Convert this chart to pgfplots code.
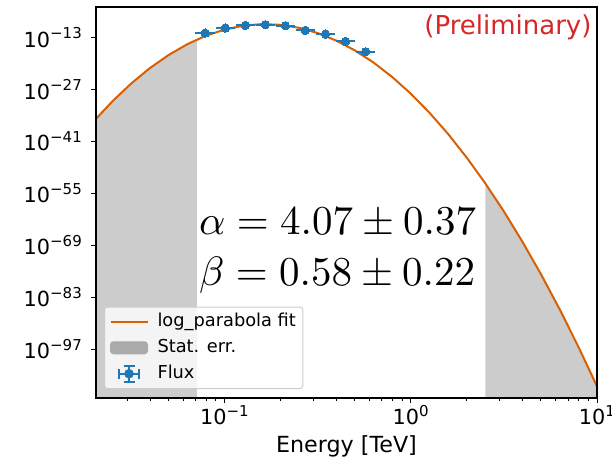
\documentclass[border=0pt]{standalone}
\usepackage[no-math]{fontspec}
\setmainfont{DejaVu Sans}
\usepackage{pgfplots}
\pgfplotsset{compat=1.18}
\definecolor{fitorange}{RGB}{217,95,2}
\definecolor{tabblue}{RGB}{31,119,180}
\definecolor{tabred}{RGB}{214,39,40}
\definecolor{errgray}{RGB}{204,204,204}
\definecolor{legpatch}{RGB}{170,170,170}
\newcommand{\tenp}[1]{10\raisebox{8.5pt}{\fontsize{15}{15}\selectfont #1}}
\begin{document}
\begin{tikzpicture}
\useasboundingbox (-96pt,-65pt) rectangle (516pt,398pt);
\begin{axis}[
  xmode=log, ymode=log,
  scale only axis, width=501pt, height=391pt,
  xmin=0.02042, xmax=10, ymin=7.2e-111, ymax=1.585e-5,
  axis on top,
  axis line style={line width=1.1pt, black},
  tick align=outside, xtick pos=bottom, ytick pos=left,
  major tick length=5pt, minor tick length=3pt,
  every tick/.style={line width=1pt, black},
  xtick={0.1,1,10},
  xticklabels={\tenp{−1},\tenp{0},\tenp{1}},
  minor xtick={0.03,0.04,0.05,0.06,0.07,0.08,0.09,0.2,0.3,0.4,0.5,0.6,0.7,0.8,0.9,2,3,4,5,6,7,8,9},
  ytickten={-97,-83,-69,-55,-41,-27,-13},
  yticklabels={\tenp{−97},\tenp{−83},\tenp{−69},\tenp{−55},\tenp{−41},\tenp{−27},\tenp{−13}},
  yminorticks=false,
  ticklabel style={font=\fontsize{20.8}{25}\selectfont, inner sep=0pt},
  xticklabel style={anchor=north, yshift=-2pt},
  yticklabel style={anchor=east, xshift=-9pt},
  xlabel={Energy [TeV]},
  xlabel style={font=\fontsize{22.2}{26}\selectfont, at={(axis description cs:0.5,0)}, anchor=base, yshift=-54.5pt, inner sep=0pt},
  legend style={at={(axis description cs:0.016,0.023)}, anchor=south west,
    draw=errgray, line width=1pt, rounded corners=3pt, fill=white, fill opacity=0.8, text opacity=1,
    font=\fontsize{17.8}{21}\selectfont, inner xsep=5pt, inner ysep=1.75pt, row sep=0pt,
    nodes={inner ysep=4.5pt, inner xsep=2pt, text height=13pt, text depth=4pt}},
  legend cell align=left,
]
% stat. err. band (left and right)
\addplot[forget plot, fill=errgray, draw=none] coordinates {
  (0.0199,1e-115) (0.0199,3.39e-36) (0.02512,7.76e-31) (0.03162,4.27e-26)
  (0.03981,5.75e-22) (0.05012,1.86e-18) (0.0631,1.48e-15) (0.0711,2.82e-14) (0.0711,1e-115)
} -- cycle;
\addplot[forget plot, fill=errgray, draw=none] coordinates {
  (2.512,1e-115) (2.512,5.13e-53) (3.162,1.38e-60) (3.981,8.71e-69) (5.012,1.38e-77)
  (6.31,5.13e-87) (7.943,4.68e-97) (10,1.02e-107) (10,1e-115)
} -- cycle;
% log-parabola fit
\addplot[forget plot, fitorange, line width=2pt] coordinates {
  (0.01995,3.39e-36) (0.02512,7.76e-31) (0.03162,4.27e-26) (0.03981,5.75e-22)
  (0.05012,1.86e-18) (0.0631,1.48e-15) (0.07943,2.82e-13) (0.1,1.29e-11)
  (0.1259,1.45e-10) (0.1585,3.89e-10) (0.1995,2.51e-10) (0.2512,3.98e-11)
  (0.3162,1.55e-12) (0.3981,1.41e-14) (0.5012,3.16e-17) (0.631,1.74e-20)
  (0.7943,2.29e-24) (1,7.24e-29) (1.259,5.62e-34) (1.585,1.05e-39)
  (1.995,4.68e-46) (2.512,5.13e-53) (3.162,1.38e-60) (3.981,8.71e-69)
  (5.012,1.38e-77) (6.31,5.13e-87) (7.943,4.68e-97) (10,1.02e-107)
};
% flux points
\addplot[forget plot, only marks, mark=*, mark size=4.2pt, color=tabblue,
  mark options={fill=tabblue, draw=tabblue, line width=0pt},
  error bars/.cd, x dir=both, x explicit relative, error mark=none,
  error bar style={line width=2pt, tabblue}] coordinates {
  (0.0787,1.55e-12) += (0.127,0) -= (0.113,0)
  (0.1009,3.39e-11) += (0.127,0) -= (0.113,0)
  (0.1292,1.74e-10) += (0.127,0) -= (0.113,0)
  (0.1656,2.63e-10) += (0.127,0) -= (0.113,0)
  (0.2122,1.41e-10) += (0.127,0) -= (0.113,0)
  (0.2720,7.76e-12) += (0.127,0) -= (0.113,0)
  (0.3484,8.3e-13) += (0.127,0) -= (0.113,0)
  (0.4466,8.3e-15) += (0.127,0) -= (0.113,0)
  (0.5722,1.38e-17) += (0.127,0) -= (0.113,0)
};
\addlegendimage{legend image code/.code={\path[draw=none,fill=none] (0pt,0pt) -- (45pt,0pt);\draw[fitorange, line width=2pt, opacity=1] (0pt,0pt) -- (37pt,0pt);}}
\addlegendentry{log\_parabola fit}
\addlegendimage{legend image code/.code={\path[draw=none,fill=none] (0pt,0pt) -- (45pt,0pt);\fill[legpatch, fill opacity=1] (0pt,-6pt) rectangle (37pt,6pt);}}
\addlegendentry{Stat. err.}
\addlegendimage{legend image code/.code={\path[draw=none,fill=none] (0pt,0pt) -- (45pt,0pt);\begin{scope}[tabblue, line width=1.5pt, opacity=1, fill opacity=1, sharp corners]
  \draw (8.5pt,0pt) -- (28.5pt,0pt); \draw (18.5pt,-8pt) -- (18.5pt,8pt);
  \draw (8.5pt,-5pt) -- (8.5pt,5pt); \draw (28.5pt,-5pt) -- (28.5pt,5pt);
  \draw (13pt,8pt) -- (24pt,8pt); \draw (13pt,-8pt) -- (24pt,-8pt);
  \fill (18.5pt,0pt) circle (4pt);\end{scope}}}
\addlegendentry{Flux}
\node[anchor=base east, inner sep=0pt, text=tabred, font=\fontsize{26}{31}\selectfont] at (axis description cs:0.9894,0.9284) {(Preliminary)};
\node[anchor=base west, inner sep=0pt, scale=4.1, transform shape] at (axis description cs:0.2042,0.4182) {$\alpha=4.07\pm0.37$};
\node[anchor=base west, inner sep=0pt, scale=4.1, transform shape] at (axis description cs:0.2042,0.2887) {$\beta=0.58\pm0.22$};
\end{axis}
\end{tikzpicture}
\end{document}
